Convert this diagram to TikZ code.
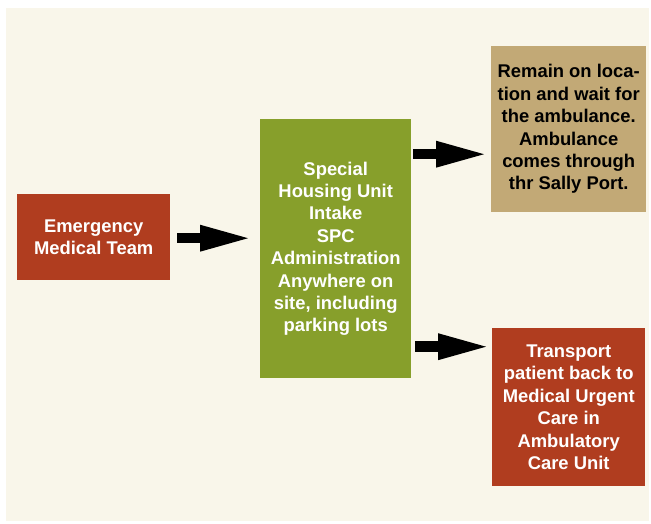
\documentclass[tikz,border=0pt]{standalone}
\usepackage{fontspec}
\setmainfont{Liberation Sans}
\usetikzlibrary{arrows.meta}
\definecolor{cream}{RGB}{249,246,234}
\definecolor{boxred}{RGB}{176,61,31}
\definecolor{boxgreen}{RGB}{135,159,43}
\definecolor{boxtan}{RGB}{194,169,118}
\tikzset{
  box/.style={inner sep=0pt, align=center, font=\bfseries\fontsize{18.4}{22.4}\selectfont, anchor=north west},
  blockarrow/.style={line width=10.5pt, -{Triangle[length=48pt,width=27pt,line width=0pt]}, black}
}
\begin{document}
\begin{tikzpicture}[x=1pt,y=-1pt]
\useasboundingbox (0,0) rectangle (651,523);
\fill[white] (0,0) rectangle (651,523);
\fill[cream] (6,8) rectangle (649,521);
\node[box, fill=boxred, text=white, minimum width=153pt, minimum height=86pt] (em) at (17,194) {Emergency\\Medical Team};
\node[box, fill=boxgreen, text=white, minimum width=151pt, minimum height=259pt] (gr) at (260,119) {Special\\Housing Unit\\Intake\\SPC\\Administration\\Anywhere on\\site, including\\parking lots};
\node[box, fill=boxtan, text=black, minimum width=155pt, minimum height=166pt] (ta) at (491,46) {Remain on loca-\\tion and wait for\\the ambulance.\\Ambulance\\comes through\\thr Sally Port.};
\node[box, fill=boxred, text=white, minimum width=153pt, minimum height=158pt] (tr) at (492,328) {Transport\\patient back to\\Medical Urgent\\Care in\\Ambulatory\\Care Unit};
\draw[blockarrow, shorten <=7pt, shorten >=12pt] ([yshift=-1pt]em.east) -- ([yshift=-1pt]em.east -| gr.west);
\draw[blockarrow, shorten <=2pt, shorten >=7pt] ([yshift=94.5pt]gr.east) -- ([yshift=94.5pt]gr.east -| ta.west);
\draw[blockarrow, shorten <=4pt, shorten >=6pt] ([yshift=-98pt]gr.east) -- ([yshift=-98pt]gr.east -| tr.west);
\end{tikzpicture}
\end{document}
